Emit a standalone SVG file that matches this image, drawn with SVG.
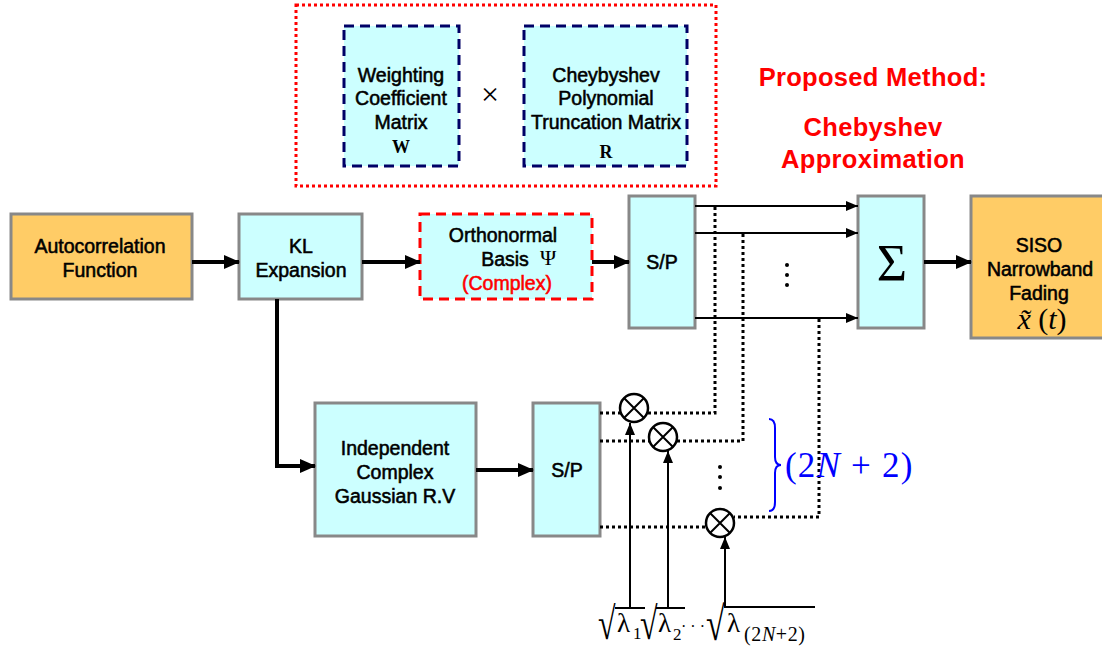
<svg xmlns="http://www.w3.org/2000/svg" width="1102" height="650" viewBox="0 0 1102 650">
<style>
.cy{fill:#CCFFFF;stroke:#888888;stroke-width:3}
.or{fill:#FFCC66;stroke:#888888;stroke-width:3}
.t{font-family:"Liberation Sans",Arial,sans-serif;font-size:19.5px;text-anchor:middle;fill:#000;stroke:#000;stroke-width:0.55px}
.red{font-family:"Liberation Sans",Arial,sans-serif;font-weight:bold;font-size:25.5px;letter-spacing:0.3px;text-anchor:middle;fill:#FF0000}
.m{font-family:"Liberation Serif","Times New Roman",serif;fill:#000}
.thick{stroke:#000;stroke-width:4;fill:none}
.thin{stroke:#000;stroke-width:2;fill:none}
.dot{stroke:#000;stroke-width:3;fill:none;stroke-dasharray:3 3}
.mul{fill:#fff;stroke:#000;stroke-width:2.5}
</style>
<defs>
<marker id="ah" markerUnits="userSpaceOnUse" markerWidth="16" markerHeight="14" refX="15" refY="7" orient="auto">
<path d="M0,0 L16,7 L0,14 Z" fill="#000"/>
</marker>
<marker id="ahs" markerUnits="userSpaceOnUse" markerWidth="12" markerHeight="10" refX="12" refY="5" orient="auto">
<path d="M0,0 L12,5 L0,10 Z" fill="#000"/>
</marker>
</defs>
<rect width="1102" height="650" fill="#fff"/>

<g id="matrix-group">
<rect x="296" y="5" width="420" height="181" fill="none" stroke="#FF0000" stroke-width="3" stroke-dasharray="3 3"/>
</g>
<g id="W-box">
<rect x="344" y="26" width="115" height="140" fill="#CCFFFF" stroke="#000066" stroke-width="3" stroke-dasharray="10 6"/>
<text class="t" x="401" y="82">Weighting</text>
<text class="t" x="401" y="105">Coefficient</text>
<text class="t" x="401" y="129">Matrix</text>
<text class="m" x="401" y="153" font-size="18" font-weight="bold" text-anchor="middle">W</text>
</g>
<text class="m" x="490" y="105" font-size="32" text-anchor="middle">×</text>
<g id="R-box">
<rect x="524" y="26" width="163" height="140" fill="#CCFFFF" stroke="#000066" stroke-width="3" stroke-dasharray="10 6"/>
<text class="t" x="606" y="82">Cheybyshev</text>
<text class="t" x="606" y="105">Polynomial</text>
<text class="t" x="606" y="129">Truncation Matrix</text>
<text class="m" x="606" y="158" font-size="18" font-weight="bold" text-anchor="middle">R</text>
</g>

<g id="proposed-label">
<text class="red" x="873" y="86">Proposed Method:</text>
<text class="red" x="873" y="136">Chebyshev</text>
<text class="red" x="873" y="168">Approximation</text>
</g>

<g id="autocorrelation">
<rect class="or" x="11" y="214" width="181" height="85"/>
<text class="t" x="100" y="253">Autocorrelation</text>
<text class="t" x="100" y="277">Function</text>
</g>
<g id="kl">
<rect class="cy" x="239" y="214" width="123" height="85"/>
<text class="t" x="301" y="253">KL</text>
<text class="t" x="301" y="277">Expansion</text>
</g>
<g id="ortho">
<rect x="420" y="214" width="172" height="85" fill="#CCFFFF" stroke="#FF0000" stroke-width="3" stroke-dasharray="10 6"/>
<text class="t" x="503" y="242">Orthonormal</text>
<text class="t" x="505" y="266">Basis</text>
<text class="m" x="548" y="265" font-size="22" text-anchor="middle">Ψ</text>
<text class="t" x="507" y="290" style="fill:#FF0000;stroke:#FF0000">(Complex)</text>
</g>
<g id="sp-top">
<rect class="cy" x="629" y="196" width="66" height="132"/>
<text class="t" x="662" y="269">S/P</text>
</g>
<g id="sum">
<rect class="cy" x="858" y="196" width="66" height="132"/>
<text class="m" x="892" y="281" font-size="52" text-anchor="middle">Σ</text>
</g>
<g id="siso">
<rect class="or" x="971" y="196" width="135" height="142"/>
<text class="t" x="1039" y="252">SISO</text>
<text class="t" x="1040" y="276">Narrowband</text>
<text class="t" x="1039" y="300">Fading</text>
<text class="m" x="1042" y="329" font-size="30" text-anchor="middle"><tspan font-style="italic">x̃</tspan> (<tspan font-style="italic">t</tspan>)</text>
</g>
<g id="gaussian">
<rect class="cy" x="315" y="403" width="161" height="133"/>
<text class="t" x="395" y="455">Independent</text>
<text class="t" x="395" y="479">Complex</text>
<text class="t" x="395" y="503">Gaussian R.V</text>
</g>
<g id="sp-bottom">
<rect class="cy" x="533" y="403" width="67" height="133"/>
<text class="t" x="567" y="477">S/P</text>
</g>

<g id="connectors">
<line class="thick" x1="192" y1="262" x2="239" y2="262" marker-end="url(#ah)"/>
<line class="thick" x1="362" y1="262" x2="420" y2="262" marker-end="url(#ah)"/>
<line class="thick" x1="592" y1="262" x2="629" y2="262" marker-end="url(#ah)"/>
<line class="thick" x1="924" y1="262" x2="971" y2="262" marker-end="url(#ah)"/>
<polyline class="thick" points="277,299 277,466 315,466" marker-end="url(#ah)"/>
<line class="thick" x1="476" y1="470" x2="533" y2="470" marker-end="url(#ah)"/>

<line class="thin" x1="695" y1="206" x2="858" y2="206" marker-end="url(#ahs)"/>
<line class="thin" x1="695" y1="233" x2="858" y2="233" marker-end="url(#ahs)"/>
<line class="thin" x1="695" y1="318" x2="858" y2="318" marker-end="url(#ahs)"/>

<polyline class="dot" points="715,207 715,413 648,413"/>
<polyline class="dot" points="743,234 743,441 676,441"/>
<polyline class="dot" points="819,319 819,517 734,517"/>
<line class="dot" x1="600" y1="413" x2="622" y2="413"/>
<line class="dot" x1="600" y1="441" x2="650" y2="441"/>
<line class="dot" x1="600" y1="527" x2="707" y2="527"/>

<line class="thin" x1="630" y1="607" x2="630" y2="423" marker-end="url(#ahs)"/>
<line class="thin" x1="668" y1="607" x2="668" y2="451" marker-end="url(#ahs)"/>
<line class="thin" x1="725" y1="607" x2="725" y2="537" marker-end="url(#ahs)"/>
</g>

<g id="multipliers">
<g id="mul1"><circle class="mul" cx="634" cy="408" r="14"/><path class="thin" stroke-width="2.5" d="M624,398 L644,418 M644,398 L624,418"/></g>
<g id="mul2"><circle class="mul" cx="663" cy="437" r="14"/><path class="thin" stroke-width="2.5" d="M653,427 L673,447 M673,427 L653,447"/></g>
<g id="mul3"><circle class="mul" cx="720" cy="523" r="14"/><path class="thin" stroke-width="2.5" d="M710,513 L730,533 M730,513 L710,533"/></g>
</g>

<g id="dots">
<circle cx="787" cy="265" r="2" fill="#000"/>
<circle cx="787" cy="275" r="2" fill="#000"/>
<circle cx="787" cy="285" r="2" fill="#000"/>
<circle cx="720" cy="467" r="2" fill="#000"/>
<circle cx="720" cy="477" r="2" fill="#000"/>
<circle cx="720" cy="488" r="2" fill="#000"/>
</g>

<g id="brace-label">
<path d="M769,419 Q775,419 775,428 L775,457 Q775,465 781,465 Q775,465 775,473 L775,502 Q775,511 769,511" fill="none" stroke="#0000FF" stroke-width="2"/>
<text class="m" x="785" y="477" font-size="35" letter-spacing="1.2" fill="#0000FF" style="fill:#0000FF">(2<tspan font-style="italic">N</tspan> + 2)</text>
</g>

<g id="lambda-labels">
<line class="thin" x1="615" y1="608" x2="645" y2="608"/>
<line class="thin" x1="656" y1="608" x2="685" y2="608"/>
<line class="thin" x1="724" y1="607" x2="815" y2="607"/>
<text class="m" font-size="32" transform="translate(598,639) scale(1,1.42)">√</text>
<text class="m" x="617" y="632" font-size="27">λ</text>
<text class="m" x="633" y="639" font-size="17">1</text>
<text class="m" font-size="32" transform="translate(640,639) scale(1,1.42)">√</text>
<text class="m" x="658" y="632" font-size="27">λ</text>
<text class="m" x="673" y="640" font-size="17">2</text>
<text class="m" x="681" y="632" font-size="16">· · ·</text>
<text class="m" font-size="34" transform="translate(706,640) scale(1,1.4)">√</text>
<text class="m" x="727" y="632" font-size="27">λ</text>
<text class="m" x="744" y="641" font-size="20" letter-spacing="0.6">(2<tspan font-style="italic">N</tspan>+2)</text>
</g>
</svg>
